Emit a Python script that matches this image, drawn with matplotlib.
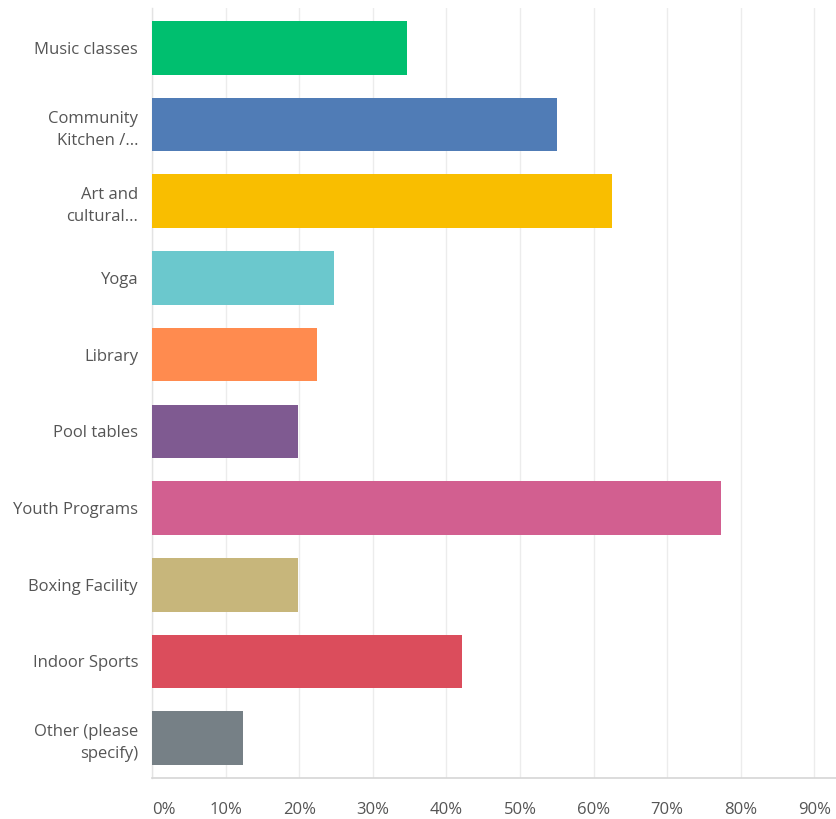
import matplotlib
matplotlib.use("Agg")
import matplotlib.pyplot as plt
from matplotlib.ticker import FixedLocator

categories = ["Music classes", "Community\nKitchen /...", "Art and\ncultural...", "Yoga",
              "Library", "Pool tables", "Youth Programs", "Boxing Facility",
              "Indoor Sports", "Other (please\nspecify)"]
values = [34.6, 55.0, 62.5, 24.7, 22.4, 19.8, 77.3, 19.8, 42.1, 12.3]
colors = ["#00BF6F", "#507CB6", "#F9BE00", "#6BC8CD", "#FF8B4F", "#7F5A91",
          "#D25F90", "#C7B67B", "#DB4D5C", "#768086"]
xticks = [0, 10, 20, 30, 40, 50, 60, 70, 80, 90]
xtick_labels = ["0%", "10%", "20%", "30%", "40%", "50%", "60%", "70%", "80%", "90%"]

plt.rcParams['font.family'] = ['Open Sans', 'DejaVu Sans']

W, H = 836, 819
fig = plt.figure(figsize=(W / 100, H / 100), dpi=100)
left, right, top, bottom = 152, 836, 8, 778
ax = fig.add_axes([left / W, (H - bottom) / H, (right - left) / W, (bottom - top) / H])

ypos = list(range(len(categories)))
ax.barh(ypos, values, height=0.70, color=colors, zorder=3)

ax.set_xlim(0, (right - left) / 7.36)
ax.set_ylim(len(categories) - 0.48, -0.52)
ax.xaxis.set_major_locator(FixedLocator(xticks))
ax.set_xticklabels(xtick_labels)
ax.set_yticks(ypos)
ax.set_yticklabels(categories, linespacing=1.5, fontsize=12)

ax.grid(axis='x', color='#ececec', linewidth=1, zorder=0)
for s in ['top', 'right']:
    ax.spines[s].set_visible(False)
ax.spines['left'].set_color('#e3e3e3')
ax.spines['bottom'].set_color('#d6d6d6')
ax.spines['left'].set_linewidth(1)
ax.spines['bottom'].set_linewidth(1.2)

ax.tick_params(axis='both', length=0, colors='#555555')
ax.tick_params(axis='x', pad=17, labelsize=12)
ax.tick_params(axis='y', pad=10)
first = ax.get_xticklabels()[0]
first.set_horizontalalignment('left')

fig.savefig("out.png", dpi=100, facecolor='white')
